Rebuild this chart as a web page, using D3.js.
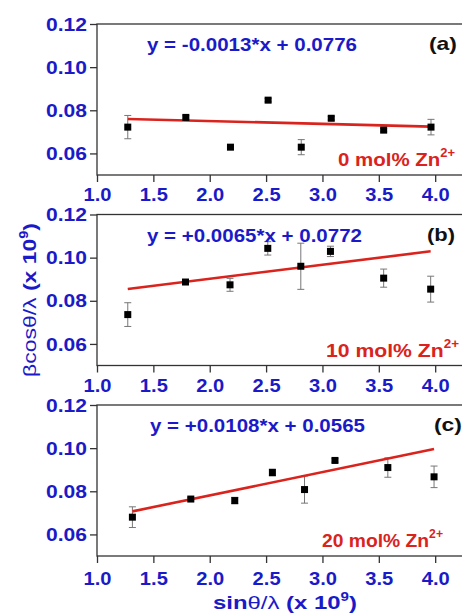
<!DOCTYPE html>
<html>
<head>
<meta charset="utf-8">
<script src="https://cdn.jsdelivr.net/npm/d3@7"></script>
<style>
  body { margin: 0; background: #fff; }
  svg { display: block; font-family: "Liberation Sans", Arial, sans-serif; }
</style>
</head>
<body>
<div id="vis"></div>
<script>
// panel data
const panelTags = ["(a)", "(b)", "(c)"];
const zincLabels = ["0 mol% Zn", "10 mol% Zn", "20 mol% Zn"];
const equations = ["y = -0.0013*x + 0.0776", "y = +0.0065*x + 0.0772", "y = +0.0108*x + 0.0565"];
const slopes = [-0.0013, 0.0065, 0.0108];
const intercepts = [0.0776, 0.0772, 0.0565];

const xA = [1.273, 1.788, 2.184, 2.518, 2.812, 3.078, 3.543, 3.963];
const yA = [0.0722, 0.0767, 0.0629, 0.0847, 0.0629, 0.0763, 0.0708, 0.0722];
const eA = [0.0054, 0.0008, 0.0005, 0.0008, 0.0035, 0.0008, 0.0008, 0.0036];

const xB = [1.273, 1.785, 2.180, 2.515, 2.808, 3.071, 3.543, 3.960];
const yB = [0.0736, 0.0887, 0.0874, 0.1043, 0.0960, 0.1029, 0.0905, 0.0854];
const eB = [0.0055, 0.0010, 0.0030, 0.0031, 0.0107, 0.0024, 0.0042, 0.0060];

const xC = [1.314, 1.832, 2.222, 2.556, 2.841, 3.111, 3.580, 3.990];
const yC = [0.0680, 0.0764, 0.0757, 0.0887, 0.0808, 0.0943, 0.0910, 0.0867];
const eC = [0.0048, 0.0008, 0.0015, 0.0016, 0.0063, 0.0008, 0.0045, 0.0050];

const xTicks = [1.0, 1.5, 2.0, 2.5, 3.0, 3.5, 4.0];
const yTicks = [0.06, 0.08, 0.10, 0.12];

const xSeries = [xA, xB, xC];
const ySeries = [yA, yB, yC];
const eSeries = [eA, eB, eC];

const WIDTH = 462, HEIGHT = 614;
const BLUE = "#1a1ac8", RED = "#da231d";
const LEFT = 97, PW = 372, PH = 151;
const TOPS = [24, 214.5, 405];
const FS = "19px";

// the original picture is a little stretched sideways, so widths are set per text
const tagEnd = [360, 358, 365];
const zincEnd = [358, 362, 346];
const zincLen = [117, 133, 121];
const eqLen = [210, 215, 215];
const xPad = [6, 6, 9];

const svg = d3.select("#vis")
    .append("svg")
    .attr("width", WIDTH)
    .attr("height", HEIGHT);

const X = d3.scaleLinear().domain([1.0, 4.3]).range([0, PW]);
const Y = d3.scaleLinear().domain([0.05, 0.12]).range([PH, 0]);

TOPS.forEach((top, p) => {
  const g = svg.append("g").attr("transform", "translate(" + LEFT + "," + top + ")");
  const pts = xSeries[p].map((x, i) => ({ x: x, y: ySeries[p][i], e: eSeries[p][i] }));

  // frame
  g.append("rect")
      .attr("width", PW).attr("height", PH)
      .attr("fill", "none").attr("stroke", "#333").attr("stroke-width", 1.3);

  // axes
  const xAxis = g.append("g")
      .attr("transform", "translate(0," + PH + ")")
      .call(d3.axisBottom(X).tickValues(xTicks).tickFormat(d3.format(".1f")).tickSize(7).tickPadding(xPad[p]));
  const yAxis = g.append("g")
      .call(d3.axisLeft(Y).tickValues(yTicks).tickFormat(d3.format(".2f")).tickSize(7).tickPadding(3));
  [xAxis, yAxis].forEach(a => {
    a.select(".domain").remove();
    a.selectAll("line").attr("stroke", "#333").attr("stroke-width", 1.3);
    a.selectAll("text")
        .attr("fill", BLUE)
        .attr("font-size", FS)
        .attr("font-weight", "bold")
        .attr("font-family", "Liberation Sans, Arial, sans-serif")
        .attr("lengthAdjust", "spacingAndGlyphs");
  });
  xAxis.selectAll("text").attr("textLength", 28);
  yAxis.selectAll("text").attr("textLength", 41);

  // error bars
  const eb = g.selectAll(".eb").data(pts).enter().append("g").attr("class", "eb")
      .attr("stroke", "#777").attr("stroke-width", 1);
  eb.append("line")
      .attr("x1", d => X(d.x)).attr("x2", d => X(d.x))
      .attr("y1", d => Y(d.y - d.e)).attr("y2", d => Y(d.y + d.e));
  eb.append("line")
      .attr("x1", d => X(d.x) - 3.5).attr("x2", d => X(d.x) + 3.5)
      .attr("y1", d => Y(d.y - d.e)).attr("y2", d => Y(d.y - d.e));
  eb.append("line")
      .attr("x1", d => X(d.x) - 3.5).attr("x2", d => X(d.x) + 3.5)
      .attr("y1", d => Y(d.y + d.e)).attr("y2", d => Y(d.y + d.e));

  // fit line
  const ext = d3.extent(xSeries[p]);
  g.append("line")
      .attr("x1", X(ext[0])).attr("x2", X(ext[1]))
      .attr("y1", Y(slopes[p] * ext[0] + intercepts[p]))
      .attr("y2", Y(slopes[p] * ext[1] + intercepts[p]))
      .attr("stroke", RED).attr("stroke-width", 2.6);

  // markers
  g.selectAll(".pt").data(pts).enter().append("rect")
      .attr("x", d => X(d.x) - 3.5).attr("y", d => Y(d.y) - 3.5)
      .attr("width", 7).attr("height", 7)
      .attr("fill", "#000");

  // equation
  g.append("text")
      .attr("x", 50 + (p == 2 ? 3 : 0)).attr("y", 27)
      .attr("fill", BLUE).attr("font-size", FS).attr("font-weight", "bold")
      .attr("textLength", eqLen[p]).attr("lengthAdjust", "spacingAndGlyphs")
      .text(equations[p]);

  // panel tag
  g.append("text")
      .attr("x", tagEnd[p]).attr("y", 26)
      .attr("text-anchor", "end")
      .attr("fill", "#111").attr("font-size", FS).attr("font-weight", "bold")
      .attr("textLength", 28).attr("lengthAdjust", "spacingAndGlyphs")
      .text(panelTags[p]);

  // zinc label
  const z = g.append("text")
      .attr("x", zincEnd[p]).attr("y", 142)
      .attr("text-anchor", "end")
      .attr("fill", RED).attr("font-size", FS).attr("font-weight", "bold")
      .attr("textLength", zincLen[p]).attr("lengthAdjust", "spacingAndGlyphs");
  z.append("tspan").text(zincLabels[p]);
  z.append("tspan").attr("dy", -9).attr("font-size", "12px").text("2+");
});

// y axis title
const yt = svg.append("text")
    .attr("transform", "translate(36,300) rotate(-90)")
    .attr("text-anchor", "middle")
    .attr("fill", BLUE).attr("font-size", FS)
    .attr("textLength", 154).attr("lengthAdjust", "spacingAndGlyphs");
yt.append("tspan").text("βcosθ/λ");
yt.append("tspan").attr("font-weight", "bold").text(" (x 10");
yt.append("tspan").attr("font-weight", "bold").attr("font-size", "12px").attr("dy", -8).text("9");
yt.append("tspan").attr("font-weight", "bold").attr("dy", 8).text(")");

// x axis title
const xt = svg.append("text")
    .attr("x", 285).attr("y", 609)
    .attr("text-anchor", "middle")
    .attr("fill", BLUE).attr("font-size", FS)
    .attr("textLength", 144).attr("lengthAdjust", "spacingAndGlyphs");
xt.append("tspan").attr("font-weight", "bold").text("sin");
xt.append("tspan").text("θ/λ");
xt.append("tspan").attr("font-weight", "bold").text(" (x 10");
xt.append("tspan").attr("font-weight", "bold").attr("font-size", "12px").attr("dy", -8).text("9");
xt.append("tspan").attr("font-weight", "bold").attr("dy", 8).text(")");
</script>
</body>
</html>
